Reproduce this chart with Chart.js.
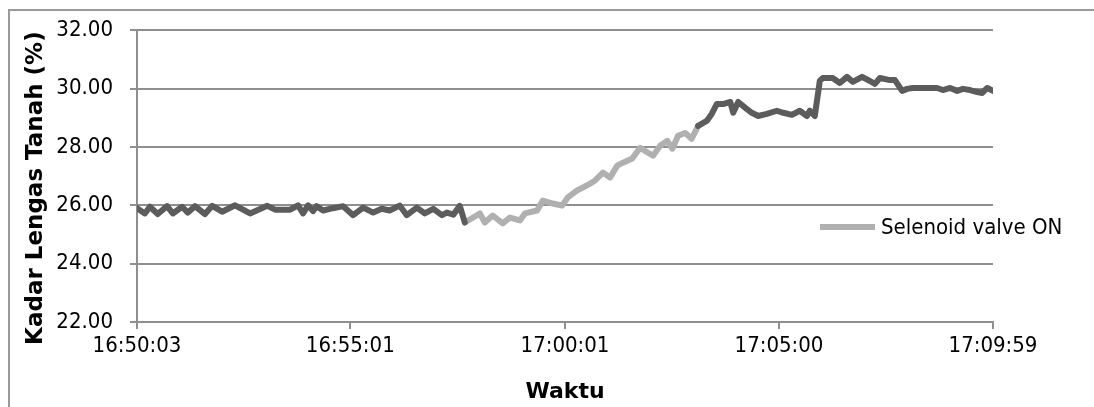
<!DOCTYPE html>
<html>
<head>
<meta charset="utf-8">
<script src="https://cdn.jsdelivr.net/npm/chart.js@4/dist/chart.umd.min.js"></script>
<style>
  body { margin: 0; background: #fff; }
  .wrap { position: relative; width: 1094px; height: 407px; overflow: hidden; }
  .frame { position: absolute; left: 8px; top: 9px; width: 1200px; height: 500px;
           border-left: 2px solid #9a9a9a; border-top: 2px solid #9a9a9a; }
  canvas { position: absolute; left: 0; top: 0; }
  .legend { position: absolute; left: 820px; top: 214px; margin: 0; padding: 0; list-style: none;
            font: 22px "DejaVu Sans Condensed", "DejaVu Sans", sans-serif; color: #000; }
  .legend__item { display: flex; align-items: center; }
  .legend__marker { width: 55px; height: 6px; margin-right: 6px; }
</style>
</head>
<body>
<div class="wrap">
  <div class="frame"></div>
  <canvas id="myChart" width="1094" height="407"></canvas>
  <div id="myChart-legend"></div>
</div>
<script>
// seconds since 16:50:03
const elapsedSec = [
  0, 11, 18, 29, 42, 50, 63, 71, 81, 95, 105, 119, 137, 158, 182, 193, 214, 225, 232, 239,
  246, 251, 260, 274, 288, 302, 316, 330, 342, 353, 367, 377, 391, 402, 414, 426, 433, 442, 451, 458,
  479, 486, 497, 511, 521, 535, 542, 559, 567, 581, 594, 602, 615, 623, 633, 640, 651, 661, 671, 679,
  692, 703, 714, 721, 731, 741, 748, 756, 766, 775, 784,
  796, 803, 810, 819, 829, 833, 840, 850, 859, 868, 880, 894, 903, 915, 926, 936, 940, 947,
  954, 958, 972, 982, 992, 1000, 1013, 1024, 1031, 1038, 1052, 1059, 1069, 1076, 1084, 1118,
  1126, 1136, 1146, 1154, 1164, 1174, 1181, 1188, 1196
];
const moisture = [
  25.90, 25.72, 25.95, 25.70, 25.97, 25.72, 25.95, 25.75, 25.97, 25.70, 25.98, 25.78, 26.00, 25.72, 25.98, 25.85, 25.85, 26.00, 25.72, 26.00,
  25.80, 25.97, 25.82, 25.90, 25.97, 25.66, 25.92, 25.75, 25.88, 25.82, 25.99, 25.66, 25.92, 25.72, 25.88, 25.66, 25.75, 25.68, 25.98, 25.41,
  25.72, 25.41, 25.65, 25.38, 25.58, 25.48, 25.72, 25.82, 26.16, 26.06, 25.99, 26.27, 26.51, 26.61, 26.74, 26.85, 27.12, 26.95, 27.36, 27.46,
  27.60, 27.97, 27.80, 27.70, 28.04, 28.21, 27.94, 28.38, 28.48, 28.28, 28.72,
  28.89, 29.13, 29.47, 29.47, 29.54, 29.17, 29.54, 29.34, 29.17, 29.06, 29.13, 29.24, 29.17, 29.10, 29.24, 29.06, 29.24, 29.06,
  30.26, 30.36, 30.36, 30.19, 30.40, 30.23, 30.40, 30.26, 30.16, 30.36, 30.29, 30.29, 29.92, 29.99, 30.02, 30.02,
  29.95, 30.02, 29.92, 29.99, 29.95, 29.88, 29.85, 30.02, 29.92
];
// valve open window (seconds since start)
const valveOnFrom = 458;
const valveOnTo = 784;
const tickLabels = ['16:50:03', '16:55:01', '17:00:01', '17:05:00', '17:09:59'];
const yTicks = [22, 24, 26, 28, 30, 32];

const toSec = t => { const p = t.split(':').map(Number); return p[0]*3600 + p[1]*60 + p[2]; };
const tickSec = tickLabels.map(t => toSec(t) - toSec(tickLabels[0]));

const FONT = '"DejaVu Sans Condensed", "DejaVu Sans", sans-serif';
const TITLE_FONT = '"DejaVu Sans", sans-serif';
const GRID = '#8f8f8f';

$ = sel => document.querySelector(sel);

const darkData = elapsedSec.map((s, i) => ({x: s, y: (s <= valveOnFrom || s >= valveOnTo) ? moisture[i] : null}));
const lightData = elapsedSec.map((s, i) => ({x: s, y: (s >= valveOnFrom && s <= valveOnTo) ? moisture[i] : null}));

const myChart = new Chart($('#myChart'), {
  type: 'line',
  data: {
    datasets: [{
      label: 'Kadar Lengas Tanah',
      data: darkData,
      borderColor: '#5c5c5c',
      borderWidth: 6,
      pointRadius: 0,
      tension: 0,
      borderJoinStyle: 'round',
      borderCapStyle: 'round',
      spanGaps: false,
    }, {
      label: 'Selenoid valve ON',
      data: lightData,
      borderColor: '#b0b0b0',
      borderWidth: 6,
      pointRadius: 0,
      tension: 0,
      borderJoinStyle: 'round',
      borderCapStyle: 'round',
      spanGaps: false,
      inLegend: true,
    }]
  },
  options: {
    responsive: false,
    animation: false,
    layout: { padding: { left: 10, right: 101, top: 29, bottom: 0 } },
    plugins: { legend: { display: false }, tooltip: { enabled: false } },
    scales: {
      x: {
        type: 'linear',
        min: tickSec[0],
        max: tickSec[tickSec.length - 1],
        afterBuildTicks: scale => { scale.ticks = tickSec.map(v => ({value: v})); },
        afterFit: scale => { scale.height = 85; },
        ticks: {
          autoSkip: false, maxRotation: 0, padding: 4, color: '#000',
          font: { family: FONT, size: 22 },
          callback: (v) => tickLabels[tickSec.indexOf(v)],
        },
        grid: { drawOnChartArea: false, drawTicks: true, tickLength: 7, color: GRID, lineWidth: 2 },
        border: { color: GRID, width: 2 },
        title: { display: true, text: 'Waktu', color: '#000',
                 font: { family: TITLE_FONT, size: 22, weight: 'bold' }, padding: { top: 0, bottom: 2 } },
      },
      y: {
        min: 22, max: 32,
        afterBuildTicks: scale => { scale.ticks = yTicks.map(v => ({value: v})); },
        afterFit: scale => { scale.width = 127; },
        ticks: { padding: 17, color: '#000', font: { family: FONT, size: 22 },
                 callback: v => v.toFixed(2) },
        grid: { color: GRID, lineWidth: 2, tickLength: 7 },
        border: { color: GRID, width: 2 },
        // trailing spaces push the title a little below the plot centre, as in the original
        title: { display: true, text: 'Kadar Lengas Tanah (%)   ', color: '#000',
                 font: { family: TITLE_FONT, size: 23, weight: 'bold' }, padding: { top: 12, bottom: 0 } },
      }
    }
  }
});

// html legend, only for the valve series
const items = myChart.data.datasets.filter(d => d.inLegend).map(d =>
  `<li class="legend__item"><div class="legend__marker" style="background-color:${d.borderColor}"></div><span>${d.label}</span></li>`);
$('#myChart-legend').innerHTML = `<ul class="legend">${items.join('')}</ul>`;
</script>
</body>
</html>
